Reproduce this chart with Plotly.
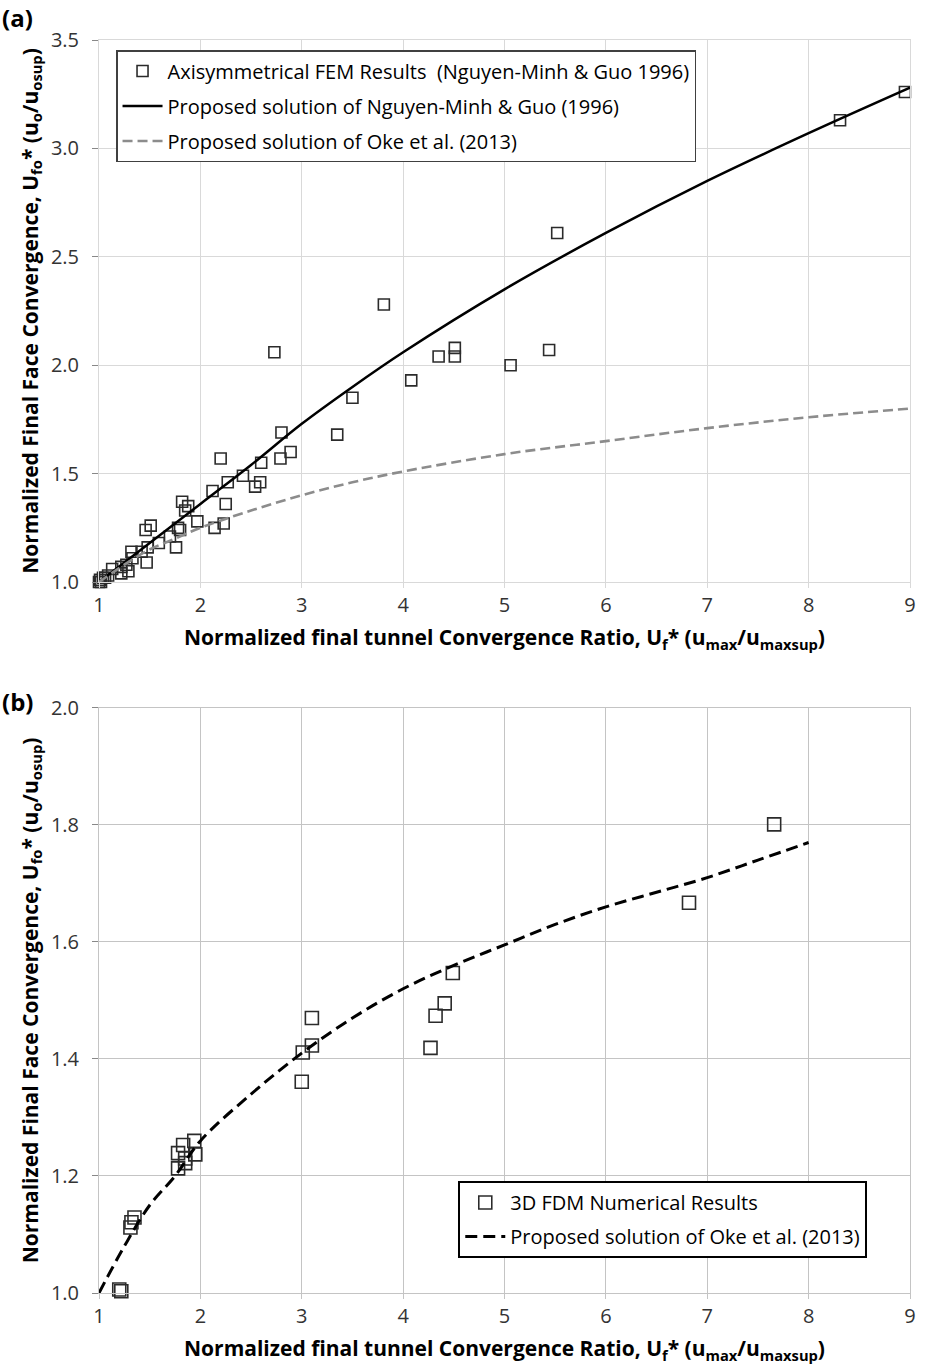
import plotly.graph_objects as go

# ---------------- Panel (a) data ----------------
fem_x = [8.95, 8.31, 5.52, 3.81, 2.73, 4.35, 4.51, 4.51, 4.08, 5.06, 5.44, 3.50, 3.35,
         2.80, 2.89, 2.79, 2.60, 2.20, 2.42, 2.27, 2.59, 2.54, 2.12, 2.25, 1.82, 1.88,
         1.85, 1.97, 1.78, 1.80, 2.23, 2.14, 1.51, 1.46, 1.70, 1.59, 1.76, 1.48, 1.42,
         1.32, 1.47, 1.33, 1.27, 1.22, 1.29, 1.22, 1.13, 1.09, 1.04, 1.06, 1.01, 1.00, 1.02]
fem_y = [3.26, 3.13, 2.61, 2.28, 2.06, 2.04, 2.08, 2.04, 1.93, 2.00, 2.07, 1.85, 1.68,
         1.69, 1.60, 1.57, 1.55, 1.57, 1.49, 1.46, 1.46, 1.44, 1.42, 1.36, 1.37, 1.35,
         1.33, 1.28, 1.25, 1.24, 1.27, 1.25, 1.26, 1.24, 1.21, 1.18, 1.16, 1.16, 1.14,
         1.14, 1.09, 1.11, 1.08, 1.07, 1.05, 1.04, 1.06, 1.03, 1.02, 1.02, 1.01, 1.00, 1.00]

ngu_x = [1.0, 1.5, 2.0, 2.5, 3.0, 3.5, 4.0, 5.0, 6.0, 7.0, 8.0, 9.0]
ngu_y = [1.00, 1.18, 1.36, 1.54, 1.73, 1.90, 2.06, 2.35, 2.61, 2.85, 3.07, 3.28]

oke_x = [1.0, 1.25, 1.5, 1.75, 2.0, 2.5, 3.0, 3.5, 4.0, 5.0, 6.0, 7.0, 8.0, 9.0]
oke_y = [1.00, 1.08, 1.15, 1.20, 1.25, 1.33, 1.40, 1.46, 1.51, 1.59, 1.65, 1.71, 1.76, 1.80]

# ---------------- Panel (b) data ----------------
fdm_x = [1.20, 1.22, 1.31, 1.32, 1.35, 1.78, 1.85, 1.85, 1.78, 1.83, 1.94, 1.95,
         3.00, 3.01, 3.10, 3.10, 4.27, 4.32, 4.41, 4.49, 6.82, 7.66]
fdm_y = [1.006, 1.003, 1.112, 1.121, 1.129, 1.213, 1.222, 1.230, 1.239, 1.253, 1.260, 1.237,
         1.361, 1.411, 1.423, 1.470, 1.419, 1.474, 1.495, 1.547, 1.667, 1.801]

okeb_x = [1.0, 1.25, 1.5, 1.75, 2.0, 2.5, 3.0, 3.5, 4.0, 4.5, 5.0, 5.5, 6.0, 6.5, 7.0, 7.5, 8.0]
okeb_y = [1.00, 1.08, 1.15, 1.20, 1.26, 1.34, 1.41, 1.47, 1.52, 1.56, 1.595, 1.63, 1.66, 1.685, 1.71, 1.74, 1.77]

x_ticks = [1, 2, 3, 4, 5, 6, 7, 8, 9]
ya_ticks = [1.0, 1.5, 2.0, 2.5, 3.0, 3.5]
yb_ticks = [1.0, 1.2, 1.4, 1.6, 1.8, 2.0]

FONT = "Open Sans"
x_title = "Normalized final tunnel Convergence Ratio, U<sub>f</sub>* (u<sub>max</sub>/u<sub>maxsup</sub>)"
y_title = "Normalized Final Face Convergence, U<sub>fo</sub>* (u<sub>o</sub>/u<sub>osup</sub>)"

fig = go.Figure()

# panel (a)
fig.add_trace(go.Scatter(
    x=fem_x, y=fem_y, mode="markers", xaxis="x", yaxis="y",
    name="Axisymmetrical FEM Results  (Nguyen-Minh & Guo 1996)",
    marker=dict(symbol="square-open", size=11, color="#2b2b2b", line=dict(width=1.6)),
    cliponaxis=False, legend="legend", legendgroup="a1"))
fig.add_trace(go.Scatter(
    x=ngu_x, y=ngu_y, mode="lines", xaxis="x", yaxis="y",
    name="Proposed solution of Nguyen-Minh & Guo (1996)",
    line=dict(color="black", width=2.5, shape="spline"),
    legend="legend", legendgroup="a2"))
fig.add_trace(go.Scatter(
    x=oke_x, y=oke_y, mode="lines", xaxis="x", yaxis="y",
    name="Proposed solution of Oke et al. (2013)",
    line=dict(color="#8c8c8c", width=2.6, dash="10px,5px", shape="spline"),
    legend="legend", legendgroup="a3"))

# panel (b)
fig.add_trace(go.Scatter(
    x=fdm_x, y=fdm_y, mode="markers", xaxis="x2", yaxis="y2",
    name="3D FDM Numerical Results",
    marker=dict(symbol="square-open", size=13, color="#2b2b2b", line=dict(width=1.6)),
    cliponaxis=False, legend="legend2", legendgroup="b1"))
fig.add_trace(go.Scatter(
    x=okeb_x, y=okeb_y, mode="lines", xaxis="x2", yaxis="y2",
    name="Proposed solution of Oke et al. (2013)",
    line=dict(color="black", width=3, dash="12px,6px", shape="spline"),
    legend="legend2", legendgroup="b2"))

tick_font = dict(family=FONT, size=20, color="#333333")
title_font = dict(family=FONT, size=21, color="black", weight="bold")

def xaxis(domain_anchor, gridcolor):
    return dict(range=[1, 9], tickvals=x_ticks, ticktext=[str(v) for v in x_ticks],
                showgrid=True, gridcolor=gridcolor, gridwidth=1,
                showline=True, linecolor=gridcolor, mirror=True,
                ticks="outside", ticklen=5, tickcolor=gridcolor,
                tickfont=tick_font, zeroline=False, anchor=domain_anchor,
                automargin=False,
                title=dict(text=x_title, font=title_font, standoff=13))

def yaxis(rng, ticks, domain, anchor, gridcolor):
    return dict(range=rng, tickvals=ticks, ticktext=[f"{v:.1f}" for v in ticks],
                domain=domain, anchor=anchor,
                showgrid=True, gridcolor=gridcolor, gridwidth=1,
                showline=True, linecolor=gridcolor, mirror=True,
                ticks="outside", ticklen=6, tickcolor="#888888",
                ticklabelstandoff=9, automargin=False,
                tickfont=tick_font, zeroline=False,
                title=dict(text=y_title, font=title_font, standoff=6))

fig.update_layout(
    width=931, height=1366,
    margin=dict(l=99, r=21, t=40, b=73),
    paper_bgcolor="white", plot_bgcolor="white",
    font=dict(family=FONT, color="black"),
    xaxis=xaxis("y", "#d9d9d9"),
    yaxis=yaxis([1, 3.5], ya_ticks, [0.5674, 1.0], "x", "#d9d9d9"),
    xaxis2=xaxis("y2", "#c4c4c4"),
    yaxis2=yaxis([1, 2.0], yb_ticks, [0.0, 0.4669], "x2", "#c4c4c4"),
    legend=dict(x=0.021, y=0.992, xanchor="left", yanchor="top",
                bgcolor="white", bordercolor="#404040", borderwidth=1.5,
                font=dict(family=FONT, size=20, color="black"),
                tracegroupgap=6, itemwidth=40),
    legend2=dict(x=0.443, y=0.0894, xanchor="left", yanchor="top",
                 bgcolor="white", bordercolor="black", borderwidth=2,
                 font=dict(family=FONT, size=20, color="black"),
                 tracegroupgap=5, itemwidth=40),
    annotations=[
        dict(text="(a)", xref="paper", yref="paper", x=-0.122, y=1.033,
             xanchor="left", yanchor="top", showarrow=False,
             font=dict(family=FONT, size=24, color="black", weight="bold")),
        dict(text="(b)", xref="paper", yref="paper", x=-0.122, y=0.487,
             xanchor="left", yanchor="top", showarrow=False,
             font=dict(family=FONT, size=24, color="black", weight="bold")),
    ],
)
fig.update_xaxes(domain=[0, 1])

fig.write_html("out.html")
